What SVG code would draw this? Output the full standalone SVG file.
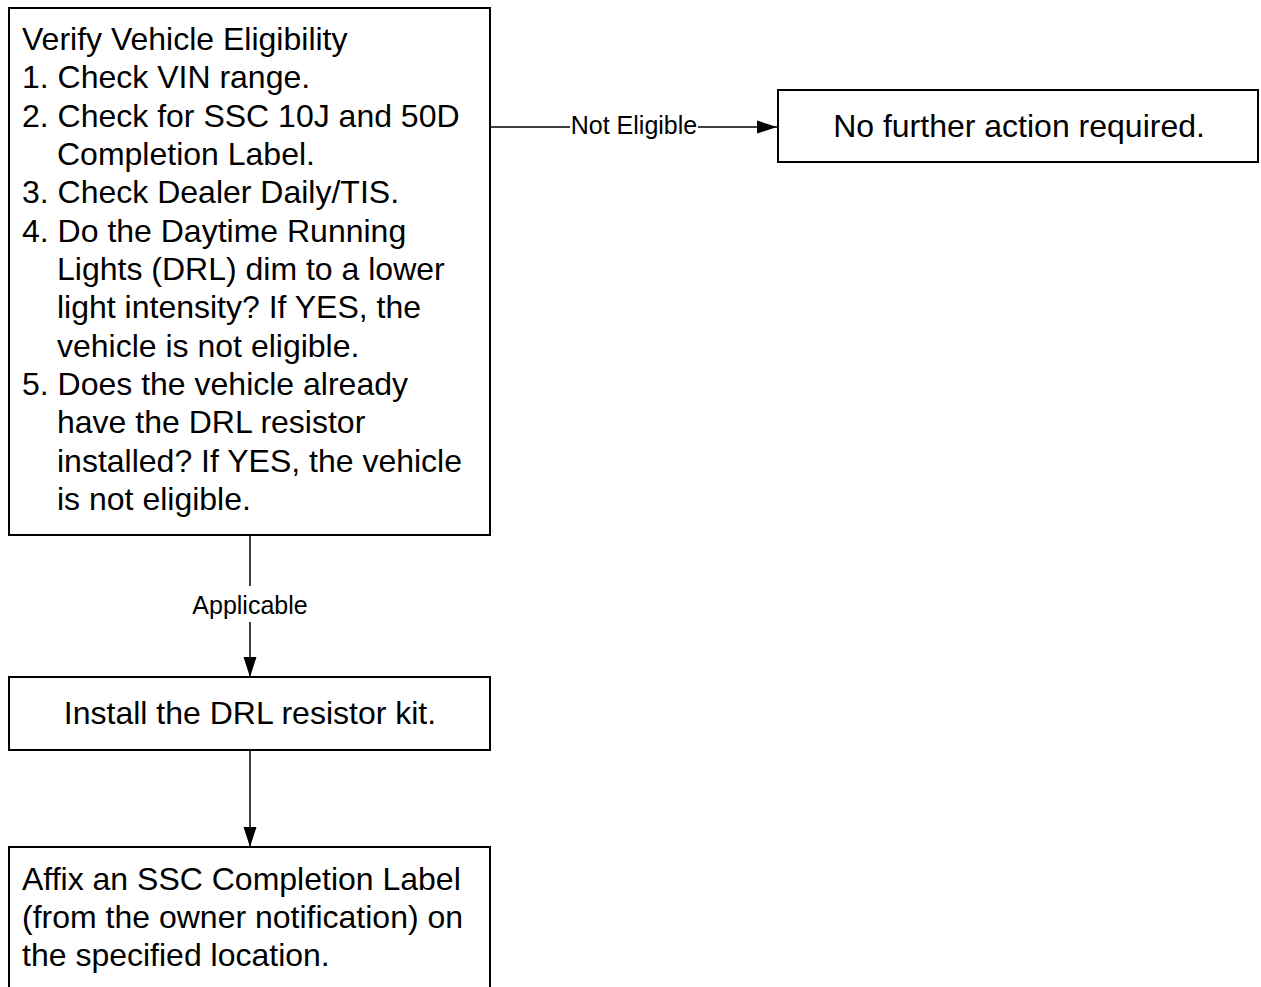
<svg xmlns="http://www.w3.org/2000/svg" width="1261" height="987" viewBox="0 0 1261 987">
<style>
.box{fill:#fff;stroke:#000;stroke-width:2}
.t{font-family:"Liberation Sans",Arial,sans-serif;font-size:32px;fill:#000}
.lbl{font-family:"Liberation Sans",Arial,sans-serif;font-size:25px;fill:#000}
.c{fill:none;stroke:#000;stroke-width:1.5}
</style>
<defs>
<marker id="arr" markerWidth="20" markerHeight="14" refX="20" refY="7" orient="auto" markerUnits="userSpaceOnUse">
<path d="M0,0.5 L20,7 L0,13.5 Z" fill="#000"/>
</marker>
</defs>
<rect width="1261" height="987" fill="#fff"/>
<g id="connectors">
<line class="c" x1="491" y1="127" x2="777" y2="127" marker-end="url(#arr)"/>
<rect x="570" y="112" width="128" height="28" fill="#fff"/>
<text class="lbl" x="634" y="134" text-anchor="middle">Not Eligible</text>
<line class="c" x1="250" y1="535" x2="250" y2="677" marker-end="url(#arr)"/>
<rect x="185" y="586" width="130" height="36" fill="#fff"/>
<text class="lbl" x="250" y="614" text-anchor="middle">Applicable</text>
<line class="c" x1="250" y1="750" x2="250" y2="847" marker-end="url(#arr)"/>
</g>
<g id="verify">
<rect class="box" x="9" y="8" width="481" height="527"/>
<text class="t" x="22" y="50">Verify Vehicle Eligibility</text>
<text class="t" x="22" y="88.3">1. Check VIN range.</text>
<text class="t" x="22" y="126.7">2. Check for SSC 10J and 50D</text>
<text class="t" x="57" y="165">Completion Label.</text>
<text class="t" x="22" y="203.3">3. Check Dealer Daily/TIS.</text>
<text class="t" x="22" y="241.7">4. Do the Daytime Running</text>
<text class="t" x="57" y="280">Lights (DRL) dim to a lower</text>
<text class="t" x="57" y="318.3">light intensity? If YES, the</text>
<text class="t" x="57" y="356.7">vehicle is not eligible.</text>
<text class="t" x="22" y="395">5. Does the vehicle already</text>
<text class="t" x="57" y="433.3">have the DRL resistor</text>
<text class="t" x="57" y="471.7">installed? If YES, the vehicle</text>
<text class="t" x="57" y="510">is not eligible.</text>
</g>
<g id="noaction">
<rect class="box" x="778" y="90" width="480" height="72"/>
<text class="t" x="1019" y="137" text-anchor="middle">No further action required.</text>
</g>
<g id="install">
<rect class="box" x="9" y="677" width="481" height="73"/>
<text class="t" x="250" y="724" text-anchor="middle">Install the DRL resistor kit.</text>
</g>
<g id="affix">
<rect class="box" x="9" y="847" width="481" height="150"/>
<text class="t" x="22" y="890">Affix an SSC Completion Label</text>
<text class="t" x="22" y="928">(from the owner notification) on</text>
<text class="t" x="22" y="966">the specified location.</text>
</g>
</svg>
